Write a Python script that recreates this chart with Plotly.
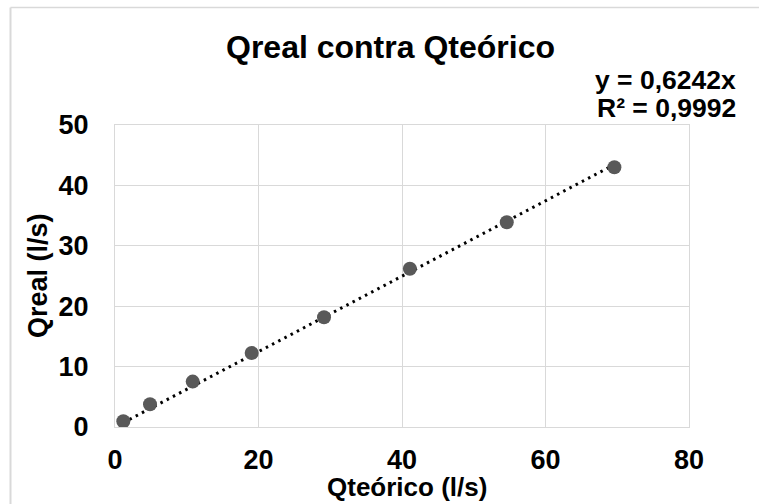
import plotly.graph_objects as go

# Data
q_teorico = [1.16, 4.88, 10.83, 19.05, 29.13, 41.1, 54.6, 69.6]
q_real = [0.94, 3.76, 7.52, 12.25, 18.16, 26.2, 33.9, 43.0]
slope = 0.6242
r2_text = "R² = 0,9992"
eq_text = "y = 0,6242x"
x_ticks = [0, 20, 40, 60, 80]
y_ticks = [0, 10, 20, 30, 40, 50]

W, H = 759, 504
L, R, T, B = 115, 70, 125, 77
pw, ph = W - L - R, H - T - B

def px(x):
    return (x - L) / pw

def py(y):
    return (H - B - y) / ph

FONT = "Liberation Sans, Arial, sans-serif"

trend_x = [min(q_teorico), max(q_teorico)]
trend_y = [slope * v for v in trend_x]

fig = go.Figure()
fig.add_trace(go.Scatter(
    x=trend_x, y=trend_y, mode="lines",
    line=dict(color="black", width=3, dash="2.5px,4.5px"),
    showlegend=False, hoverinfo="skip"))
fig.add_trace(go.Scatter(
    x=q_teorico, y=q_real, mode="markers",
    marker=dict(color="#595959", size=14, line=dict(width=0)),
    showlegend=False))

axis_common = dict(
    showgrid=True, gridcolor="#d9d9d9", gridwidth=1,
    zeroline=False, showline=True, linecolor="#d9d9d9", linewidth=1,
    mirror=True, ticks="",
    tickfont=dict(family=FONT, size=27, color="black", weight="bold"),
)
fig.update_xaxes(range=[0, 80], tickvals=x_ticks, ticklabelstandoff=9, **axis_common)
fig.update_yaxes(range=[0, 50], tickvals=y_ticks, ticklabelstandoff=20, **axis_common)

fig.update_layout(
    width=W, height=H,
    margin=dict(l=L, r=R, t=T, b=B),
    plot_bgcolor="white", paper_bgcolor="white",
    title=dict(text="<b>Qreal contra Qteórico</b>", xref="container", yref="container",
               x=390.5 / W, y=1 - 46.5 / H, xanchor="center", yanchor="middle",
               font=dict(family=FONT, size=32, color="black")),
    annotations=[
        dict(text="<b>" + eq_text + "</b>", xref="paper", yref="paper",
             x=px(738), y=py(80), xanchor="right", yanchor="middle", showarrow=False,
             font=dict(family=FONT, size=26.5, color="black")),
        dict(text="<b>" + r2_text + "</b>", xref="paper", yref="paper",
             x=px(738), y=py(108), xanchor="right", yanchor="middle", showarrow=False,
             font=dict(family=FONT, size=26.5, color="black")),
        dict(text="<b>Qteórico (l/s)</b>", xref="paper", yref="paper",
             x=px(407), y=py(487), xanchor="center", yanchor="middle", showarrow=False,
             font=dict(family=FONT, size=26, color="black")),
        dict(text="<b>Qreal (l/s)</b>", xref="paper", yref="paper",
             x=px(38), y=py(276), xanchor="center", yanchor="middle", showarrow=False,
             textangle=-90, font=dict(family=FONT, size=27, color="black")),
    ],
    shapes=[
        dict(type="line", xref="paper", yref="paper", x0=px(10.5), x1=px(W + 5),
             y0=py(7.5), y1=py(7.5), line=dict(color="#d9d9d9", width=1.5)),
        dict(type="line", xref="paper", yref="paper", x0=px(10.5), x1=px(10.5),
             y0=py(7.5), y1=py(H + 5), line=dict(color="#d9d9d9", width=2)),
    ],
)

fig.write_html(
    "out.html",
    config={"displayModeBar": False},
    post_script="document.body.style.margin='0';document.body.style.padding='0';"
                "document.documentElement.style.overflow='hidden';",
)
